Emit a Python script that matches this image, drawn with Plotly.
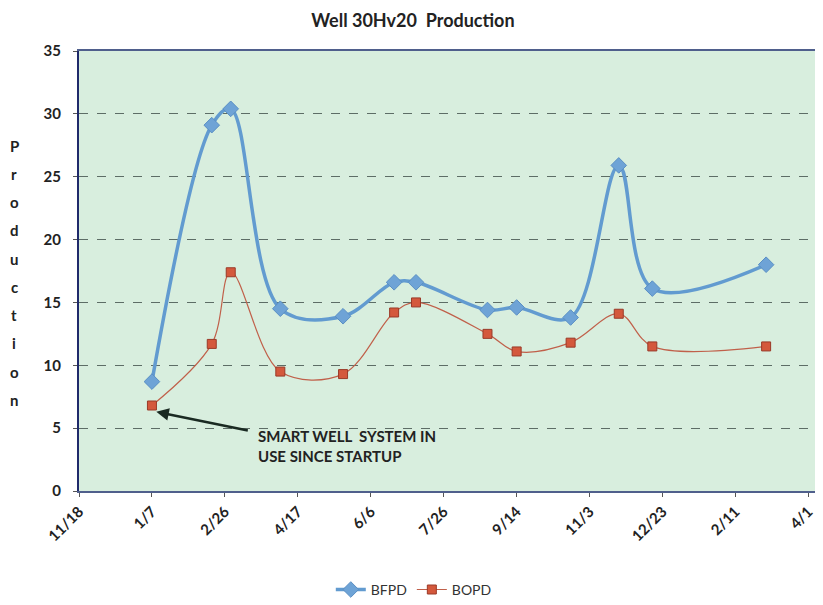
import plotly.graph_objects as go
import pandas as pd

dates = ["2007-01-07", "2007-02-17", "2007-03-02", "2007-04-05", "2007-05-18",
         "2007-06-22", "2007-07-07", "2007-08-25", "2007-09-14", "2007-10-21",
         "2007-11-23", "2007-12-16", "2008-03-03"]
bfpd = [8.7, 29.1, 30.4, 14.5, 13.9, 16.6, 16.6, 14.4, 14.6, 13.8, 25.9, 16.1, 18.0]
bopd = [6.8, 11.7, 17.4, 9.5, 9.3, 14.2, 15.0, 12.5, 11.1, 11.8, 14.1, 11.5, 11.5]

tick_start = "2006-11-18"
tick_count = 11
tick_step_days = 50
tickvals = list(pd.date_range(tick_start, periods=tick_count, freq=f"{tick_step_days}D"))
ticktext = [f"{d.month}/{d.day}" for d in tickvals]

FONT = "Lato, 'Open Sans', sans-serif"

fig = go.Figure()
fig.add_trace(go.Scatter(
    x=dates, y=bfpd, name="BFPD", mode="lines+markers",
    line=dict(color="#629bd0", width=3.5, shape="spline", smoothing=1.0),
    marker=dict(symbol="diamond", size=12, color="#6ea3d6",
                line=dict(color="#5a8fc4", width=1)),
))
fig.add_trace(go.Scatter(
    x=dates, y=bopd, name="BOPD", mode="lines+markers",
    line=dict(color="#c0604a", width=1.2, shape="spline", smoothing=1.0),
    marker=dict(symbol="square", size=9, color="#d4583c",
                line=dict(color="#9a3a28", width=1)),
))

# Stacked vertical y-axis title
letters = list("Production")
for i, ch in enumerate(letters):
    fig.add_annotation(
        text=ch, xref="paper", yref="paper", x=-0.087, y=0.785 - i * 0.0642,
        showarrow=False, font=dict(family=FONT, size=15, color="#222", weight="bold"),
        xanchor="center", yanchor="middle",
    )

# Callout arrow and text
fig.add_annotation(
    x="2007-01-10", y=6.3, ax=93, ay=19, xref="x", yref="y",
    showarrow=True, arrowhead=2, arrowsize=1.0, arrowwidth=2.5,
    arrowcolor="#1a2a22", text="",
)
fig.add_annotation(
    x="2007-03-19", y=3.6, xref="x", yref="y", showarrow=False,
    text="SMART WELL  SYSTEM IN<br>USE SINCE STARTUP", align="left",
    xanchor="left", yanchor="middle",
    font=dict(family=FONT, size=15, color="#222", weight="bold"),
)

fig.update_layout(
    width=823, height=605,
    margin=dict(l=71, r=8, t=43, b=121),
    paper_bgcolor="white",
    plot_bgcolor="#d8eede",
    title=dict(text="Well 30Hv20  Production", x=0.492, xanchor="center",
               y=0.99, yanchor="top",
               font=dict(family=FONT, size=18, color="#222", weight="bold")),
    showlegend=True,
    legend=dict(orientation="h", x=0.45, xanchor="center", y=-0.222, yanchor="middle",
                font=dict(family=FONT, size=14, color="#333"), itemwidth=30,
                bgcolor="rgba(0,0,0,0)"),
    font=dict(family=FONT),
)
fig.update_xaxes(
    range=["2006-11-18", "2008-04-11"], automargin=False,
    tickvals=tickvals, ticktext=ticktext, tickangle=-45,
    tickfont=dict(family=FONT, size=15, color="#222", weight="bold"),
    showgrid=False, zeroline=False,
    showline=True, linecolor="#4f5f8c", linewidth=2, mirror=True,
    ticks="outside", ticklen=4, tickcolor="#555",
)
fig.update_yaxes(
    range=[0, 35], dtick=5, automargin=False,
    tickfont=dict(family=FONT, size=15, color="#222", weight="bold"),
    showgrid=True, gridcolor="#5d6d66", griddash="dash", gridwidth=1,
    zeroline=False, ticklabelstandoff=9,
    showline=True, linecolor="#1f2a6b", linewidth=2,
    ticks="outside", ticklen=4, tickcolor="#555",
)

fig.write_html("out.html")
